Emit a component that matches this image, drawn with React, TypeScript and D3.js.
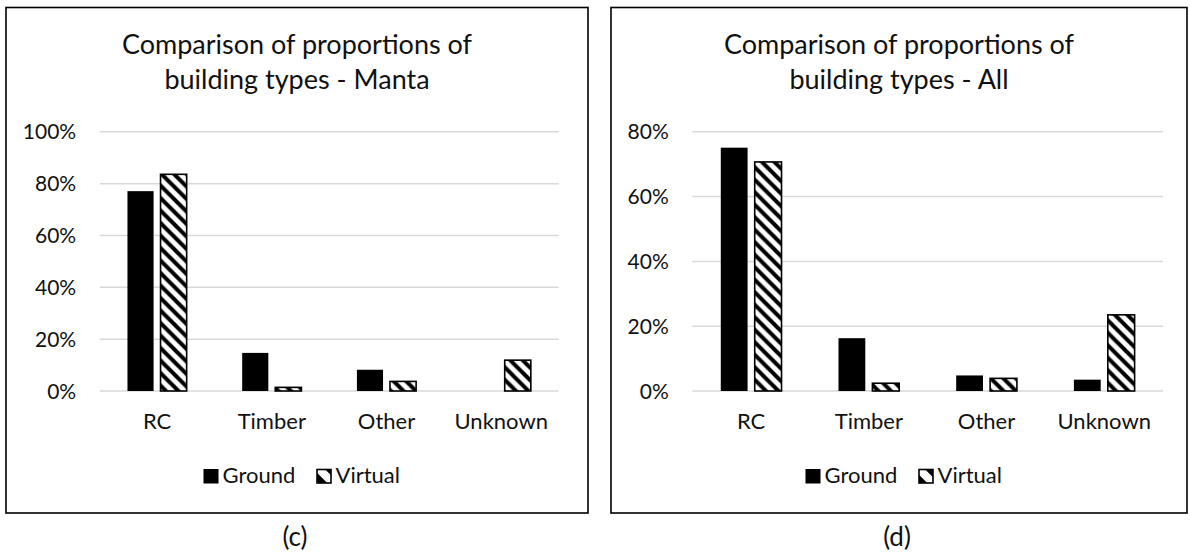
import React from "react";
import * as d3 from "d3";

const categories = ["RC", "Timber", "Other", "Unknown"];
const seriesNames = ["Ground", "Virtual"];

const mantaGround = [0.771, 0.147, 0.082, 0];
const mantaVirtual = [0.836, 0.014, 0.037, 0.119];
const allGround = [0.751, 0.163, 0.048, 0.035];
const allVirtual = [0.707, 0.024, 0.039, 0.235];

const mantaTicks = [0, 0.2, 0.4, 0.6, 0.8, 1.0];
const allTicks = [0, 0.2, 0.4, 0.6, 0.8];

const FONT = "Lato, 'Open Sans', sans-serif";
const TEXT = "#111";

type PanelProps = {
  x0: number;
  w: number;
  title: [string, string];
  caption: string;
  ground: number[];
  virtual: number[];
  ticks: number[];
  plotL: number;
  plotR: number;
};

function Panel({ x0, w, title, caption, ground, virtual, ticks, plotL, plotR }: PanelProps) {
  const top = 7.5;
  const bottom = 513;
  const cx = x0 + w / 2;
  const plotTop = 131.8;
  const plotBottom = 391;
  const yMax = ticks[ticks.length - 1];
  const y = d3.scaleLinear().domain([0, yMax]).range([plotBottom, plotTop]);
  const xCat = d3.scaleBand<string>().domain(categories).range([plotL, plotR]).paddingInner(0).paddingOuter(0);
  const bw = xCat.bandwidth();
  const xSer = d3
    .scaleBand<string>()
    .domain(seriesNames)
    .range([-0.258 * bw, 0.258 * bw])
    .paddingInner(0.21)
    .paddingOuter(0);
  const fmt = d3.format(".0%");
  const data = [ground, virtual];

  return (
    <g>
      <rect x={x0} y={top} width={w} height={bottom - top} fill="#fff" stroke="#000" strokeWidth={1.6} />
      <text x={cx} y={53.5} textAnchor="middle" fontFamily={FONT} fontSize={27} fill={TEXT}>
        {title[0]}
      </text>
      <text x={cx} y={89} textAnchor="middle" fontFamily={FONT} fontSize={27} fill={TEXT}>
        {title[1]}
      </text>
      {ticks.map((t) => (
        <g key={t}>
          <line x1={plotL} x2={plotR} y1={y(t)} y2={y(t)} stroke="#d9d9d9" strokeWidth={1.5} />
          <text
            x={plotL - 23.5}
            y={y(t)}
            dy="0.36em"
            textAnchor="end"
            fontFamily={FONT}
            fontSize={21}
            fill={TEXT}
          >
            {fmt(t)}
          </text>
        </g>
      ))}
      {categories.map((c, i) => {
        const cc = (xCat(c) as number) + bw / 2;
        return (
          <g key={c}>
            {seriesNames.map((s, si) => {
              const v = data[si][i];
              if (v <= 0) return null;
              const bx = cc + (xSer(s) as number);
              const bwid = xSer.bandwidth();
              return si === 0 ? (
                <rect key={s} x={bx} y={y(v)} width={bwid} height={plotBottom - y(v)} fill="#000" />
              ) : (
                <rect
                  key={s}
                  x={bx}
                  y={y(v)}
                  width={bwid}
                  height={plotBottom - y(v)}
                  fill="url(#hatch)"
                  stroke="#000"
                  strokeWidth={1.6}
                />
              );
            })}
            <text x={cc} y={429} textAnchor="middle" fontFamily={FONT} fontSize={22} fill={TEXT}>
              {c}
            </text>
          </g>
        );
      })}
      {/* legend */}
      <rect x={cx - 93.5} y={469} width={15} height={14.5} fill="#000" />
      <text x={cx - 74.5} y={483} fontFamily={FONT} fontSize={22} fill={TEXT}>
        {seriesNames[0]}
      </text>
      <rect x={cx + 20} y={469.5} width={14} height={13.5} fill="url(#hatchLegend)" stroke="#000" strokeWidth={1.6} />
      <text x={cx + 38.5} y={483} fontFamily={FONT} fontSize={22} fill={TEXT}>
        {seriesNames[1]}
      </text>
      <text x={cx - 2} y={546} textAnchor="middle" fontFamily={FONT} fontSize={26} fill={TEXT}>
        {caption}
      </text>
    </g>
  );
}

export default function App() {
  const P = 12.5;
  return (
    <svg
      width={1190}
      height={553}
      viewBox="0 0 1190 553"
      style={{ position: "absolute", left: 0, top: 0, background: "#fff" }}
    >
      <defs>
        <pattern id="hatch" patternUnits="userSpaceOnUse" width={P} height={P}>
          <rect width={P} height={P} fill="#fff" />
          <path
            d={`M0,0L${P},${P}M${-P / 2},${P / 2}L${P / 2},${P * 1.5}M${P / 2},${-P / 2}L${P * 1.5},${P / 2}`}
            stroke="#000"
            strokeWidth={4}
          />
        </pattern>
        <pattern id="hatchLegend" patternUnits="userSpaceOnUse" width={20} height={20}>
          <rect width={20} height={20} fill="#fff" />
          <path d="M0,0L20,20M-10,10L10,30M10,-10L30,10" stroke="#000" strokeWidth={6} />
        </pattern>
      </defs>
      <rect x={0} y={0} width={1190} height={553} fill="#fff" />
      <Panel
        x0={6}
        w={582}
        title={["Comparison of proportions of", "building types - Manta"]}
        caption="(c)"
        ground={mantaGround}
        virtual={mantaVirtual}
        ticks={mantaTicks}
        plotL={99.7}
        plotR={558.6}
      />
      <Panel
        x0={611}
        w={576}
        title={["Comparison of proportions of", "building types - All"]}
        caption="(d)"
        ground={allGround}
        virtual={allVirtual}
        ticks={allTicks}
        plotL={692.3}
        plotR={1163.1}
      />
    </svg>
  );
}
